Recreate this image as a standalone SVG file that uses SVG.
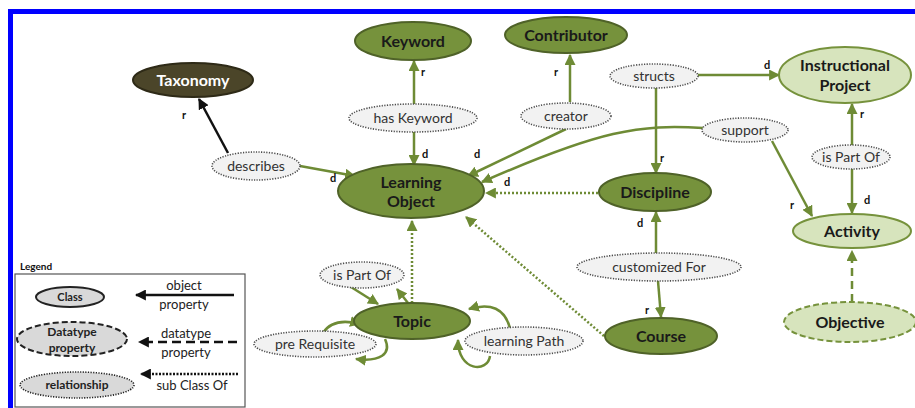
<svg xmlns="http://www.w3.org/2000/svg" width="915" height="408" viewBox="0 0 915 408">
<style>
  .cls{fill:#76923c;stroke:#4f6228;stroke-width:2}
  .lcls{fill:#d7e4bd;stroke:#76923c;stroke-width:2}
  .rel{fill:#f2f2f2;stroke:#4d4d4d;stroke-width:1.6;stroke-dasharray:1.2 1.4}
  .nt{font-family:Lato,"Open Sans",sans-serif;font-weight:bold;font-size:16px;text-anchor:middle;fill:#1a1a1a}
  .rt{font-family:Lato,"Open Sans",sans-serif;font-size:14px;text-anchor:middle;fill:#333}
  .lb{font-family:Lato,"Open Sans",sans-serif;font-weight:bold;font-size:11px;fill:#111}
  .con{fill:none;stroke:#6e8b35;stroke-width:2.5}
  .dot{fill:none;stroke:#6e8b35;stroke-width:2.5;stroke-dasharray:2 2}
  .leg{font-family:Lato,"Open Sans",sans-serif;font-size:13px;text-anchor:middle;fill:#222}
  .legb{font-family:Lato,"Open Sans",sans-serif;font-weight:bold;font-size:12px;text-anchor:middle;fill:#222}
</style>
<defs>
  <marker id="ag" viewBox="0 0 10 10" refX="9" refY="5" markerWidth="11" markerHeight="11" markerUnits="userSpaceOnUse" orient="auto"><path d="M0,0 L10,5 L0,10 z" fill="#6e8b35"/></marker>
  <marker id="ak" viewBox="0 0 10 10" refX="9" refY="5" markerWidth="11" markerHeight="11" markerUnits="userSpaceOnUse" orient="auto"><path d="M0,0 L10,5 L0,10 z" fill="#111"/></marker>
</defs>
<rect x="0" y="0" width="915" height="408" fill="#fff"/>
<rect x="8" y="9" width="907" height="5" fill="#0000ff"/>
<rect x="8" y="9" width="5" height="399" fill="#0000ff"/>

<g id="connectors">
  <line x1="228" y1="153" x2="199" y2="99" stroke="#111" stroke-width="2.5" marker-end="url(#ak)"/>
  <text class="lb" x="182" y="119">r</text>
  <line class="con" x1="300" y1="166" x2="355" y2="176" marker-end="url(#ag)"/>
  <text class="lb" x="330" y="182">d</text>
  <line class="con" x1="414" y1="104" x2="414" y2="61" marker-end="url(#ag)"/>
  <text class="lb" x="421" y="76">r</text>
  <line class="con" x1="414" y1="132" x2="414" y2="165" marker-end="url(#ag)"/>
  <text class="lb" x="422" y="158">d</text>
  <line class="con" x1="570" y1="102" x2="570" y2="55" marker-end="url(#ag)"/>
  <text class="lb" x="554" y="76">r</text>
  <line class="con" x1="566" y1="129" x2="468" y2="176" marker-end="url(#ag)"/>
  <text class="lb" x="474" y="158">d</text>
  <line class="con" x1="698" y1="75" x2="779" y2="75" marker-end="url(#ag)"/>
  <text class="lb" x="764" y="69">d</text>
  <line class="con" x1="656" y1="88" x2="656" y2="173" marker-end="url(#ag)"/>
  <text class="lb" x="660" y="162">r</text>
  <path class="con" d="M703,128 C640,124 600,130 482,182" marker-end="url(#ag)"/>
  <text class="lb" x="504" y="186">d</text>
  <line class="con" x1="772" y1="141" x2="812" y2="216" marker-end="url(#ag)"/>
  <text class="lb" x="790" y="209">r</text>
  <line class="con" x1="852" y1="145" x2="852" y2="104" marker-end="url(#ag)"/>
  <text class="lb" x="860" y="118">r</text>
  <line class="con" x1="852" y1="169" x2="852" y2="213" marker-end="url(#ag)"/>
  <text class="lb" x="864" y="204">d</text>
  <line class="dot" x1="598" y1="193" x2="486" y2="193" marker-end="url(#ag)"/>
  <line class="con" x1="656" y1="253" x2="656" y2="212" marker-end="url(#ag)"/>
  <text class="lb" x="637" y="227">d</text>
  <line class="con" x1="658" y1="281" x2="661" y2="317" marker-end="url(#ag)"/>
  <text class="lb" x="645" y="314">r</text>
  <line class="dot" x1="604" y1="336" x2="466" y2="217" marker-end="url(#ag)"/>
  <line class="dot" x1="412" y1="303" x2="412" y2="221" marker-end="url(#ag)"/>
  <line class="con" x1="351" y1="287" x2="378" y2="304" marker-end="url(#ag)"/>
  <line class="con" x1="408" y1="303" x2="397" y2="289" marker-end="url(#ag)"/>
  <path class="con" d="M323,333 Q333,317 360,324" marker-end="url(#ag)"/>
  <path class="con" d="M385,339 C392,354 380,362 356,359" marker-end="url(#ag)"/>
  <path class="con" d="M510,328 Q502,299 469,309" marker-end="url(#ag)"/>
  <path class="con" d="M490,356 C488,373 458,372 458,340" marker-end="url(#ag)"/>
  <line x1="852" y1="302" x2="852" y2="251" stroke="#6e8b35" stroke-width="2.5" stroke-dasharray="8 5" marker-end="url(#ag)"/>
</g>

<g id="taxonomy"><ellipse cx="193" cy="80" rx="60" ry="17" fill="#4b4529" stroke="#2e2a17" stroke-width="2"/><text class="nt" x="193" y="86" style="fill:#fff">Taxonomy</text></g>
<g id="keyword"><ellipse class="cls" cx="413" cy="41" rx="58" ry="19"/><text class="nt" x="413" y="47">Keyword</text></g>
<g id="contributor"><ellipse class="cls" cx="566" cy="35" rx="61" ry="18"/><text class="nt" x="566" y="41">Contributor</text></g>
<g id="instructional-project"><ellipse class="lcls" cx="845" cy="75" rx="66" ry="28"/><text class="nt" x="845" y="71">Instructional</text><text class="nt" x="845" y="91">Project</text></g>
<g id="learning-object"><ellipse class="cls" cx="411" cy="191" rx="73" ry="27"/><text class="nt" x="411" y="188">Learning</text><text class="nt" x="411" y="207">Object</text></g>
<g id="discipline"><ellipse class="cls" cx="655" cy="192" rx="56" ry="19"/><text class="nt" x="655" y="198">Discipline</text></g>
<g id="activity"><ellipse class="lcls" cx="852" cy="231" rx="59" ry="17"/><text class="nt" x="852" y="237">Activity</text></g>
<g id="objective"><ellipse class="lcls" cx="850" cy="322" rx="66" ry="20" stroke-dasharray="6 3"/><text class="nt" x="850" y="328">Objective</text></g>
<g id="topic"><ellipse class="cls" cx="412" cy="321" rx="58" ry="18"/><text class="nt" x="412" y="327">Topic</text></g>
<g id="course"><ellipse class="cls" cx="661" cy="336" rx="56" ry="18"/><text class="nt" x="661" y="342">Course</text></g>

<g id="has-keyword"><ellipse class="rel" cx="413" cy="118" rx="64" ry="14"/><text class="rt" x="413" y="123">has Keyword</text></g>
<g id="describes"><ellipse class="rel" cx="256" cy="166" rx="44" ry="14"/><text class="rt" x="256" y="171">describes</text></g>
<g id="creator"><ellipse class="rel" cx="566" cy="116" rx="45" ry="13"/><text class="rt" x="566" y="121">creator</text></g>
<g id="structs"><ellipse class="rel" cx="654" cy="76" rx="44" ry="12"/><text class="rt" x="654" y="81">structs</text></g>
<g id="support"><ellipse class="rel" cx="745" cy="130" rx="43" ry="12"/><text class="rt" x="745" y="135">support</text></g>
<g id="is-part-of-ip"><ellipse class="rel" cx="851" cy="157" rx="39" ry="12"/><text class="rt" x="851" y="162">is Part Of</text></g>
<g id="customized-for"><ellipse class="rel" cx="659" cy="267" rx="82" ry="14"/><text class="rt" x="659" y="272">customized For</text></g>
<g id="is-part-of-topic"><ellipse class="rel" cx="362" cy="275" rx="42" ry="13"/><text class="rt" x="362" y="280">is Part Of</text></g>
<g id="pre-requisite"><ellipse class="rel" cx="315" cy="344" rx="61" ry="13"/><text class="rt" x="315" y="349">pre Requisite</text></g>
<g id="learning-path"><ellipse class="rel" cx="524" cy="341" rx="59" ry="14"/><text class="rt" x="524" y="346">learning Path</text></g>

<g id="legend">
  <text class="lb" x="20" y="270" style="font-size:10px">Legend</text>
  <rect x="15" y="274" width="230" height="133" fill="#fff" stroke="#555" stroke-width="1.2"/>
  <ellipse cx="70" cy="297" rx="34" ry="10" fill="#d9d9d9" stroke="#222" stroke-width="2"/>
  <text class="legb" x="70" y="301" style="font-size:11px">Class</text>
  <ellipse cx="72" cy="339" rx="55" ry="17" fill="#d9d9d9" stroke="#222" stroke-width="2" stroke-dasharray="6 3"/>
  <text class="legb" x="72" y="336">Datatype</text>
  <text class="legb" x="72" y="352">property</text>
  <ellipse cx="77" cy="385" rx="57" ry="13" fill="#d9d9d9" stroke="#222" stroke-width="1.6" stroke-dasharray="1.2 1.4"/>
  <text class="legb" x="77" y="389">relationship</text>
  <line x1="234" y1="295" x2="136" y2="295" stroke="#111" stroke-width="2.5" marker-end="url(#ak)"/>
  <text class="leg" x="184" y="290">object</text>
  <text class="leg" x="184" y="309">property</text>
  <line x1="237" y1="342" x2="139" y2="342" stroke="#111" stroke-width="2.5" stroke-dasharray="9 5" marker-end="url(#ak)"/>
  <text class="leg" x="186" y="338">datatype</text>
  <text class="leg" x="186" y="357">property</text>
  <line x1="238" y1="374" x2="141" y2="374" stroke="#111" stroke-width="2.5" stroke-dasharray="2 1.5" marker-end="url(#ak)"/>
  <text class="leg" x="192" y="390">sub Class Of</text>
</g>
</svg>
